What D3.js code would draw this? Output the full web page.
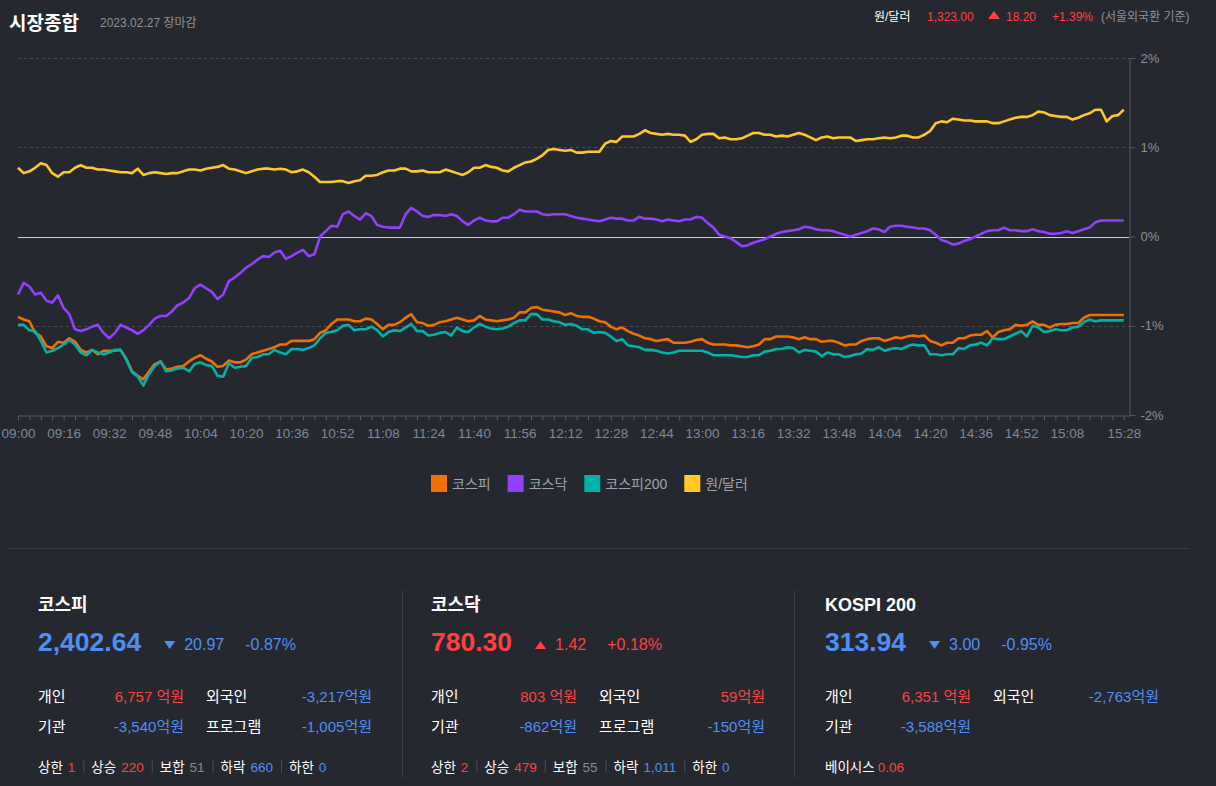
<!DOCTYPE html>
<html>
<head>
<meta charset="utf-8">
<script src="https://cdn.jsdelivr.net/npm/d3@7"></script>
<style>
html, body { margin: 0; padding: 0; background: #262830; overflow: hidden; }
svg text { font-family: "Liberation Sans", "Noto Sans CJK KR", sans-serif; }
</style>
</head>
<body>
<svg id="chart"></svg>
<script>
// intraday % change, sampled every 2 minutes from 09:00 to 15:28
var startTime = '09:00', stepMin = 2, tickStepMin = 4

var kospi = [
  -0.90, -0.93, -0.95, -1.08, -1.12, -1.23, -1.25, -1.18, -1.19, -1.14,
  -1.18, -1.27, -1.30, -1.27, -1.32, -1.28, -1.28, -1.28, -1.27, -1.37,
  -1.51, -1.56, -1.60, -1.51, -1.43, -1.40, -1.49, -1.48, -1.46, -1.45,
  -1.40, -1.36, -1.33, -1.37, -1.40, -1.46, -1.45, -1.39, -1.41, -1.41,
  -1.38, -1.32, -1.30, -1.28, -1.26, -1.24, -1.21, -1.21, -1.17, -1.17,
  -1.17, -1.17, -1.15, -1.08, -1.05, -0.98, -0.93, -0.93, -0.93, -0.95,
  -0.95, -0.92, -0.93, -0.98, -1.04, -0.99,
  -0.99, -0.96, -0.91, -0.87, -0.96, -0.97, -1.00, -0.99, -0.96, -0.95,
  -0.93, -0.91, -0.93, -0.95, -0.94, -0.89, -0.93, -0.94, -0.95, -0.94,
  -0.93, -0.91, -0.85, -0.85, -0.80, -0.79, -0.82, -0.83, -0.84, -0.85,
  -0.88, -0.86, -0.89, -0.90, -0.90, -0.92, -0.95, -0.96, -1.01, -1.04,
  -1.02, -1.06, -1.09, -1.11, -1.14, -1.15, -1.17, -1.16, -1.15, -1.19,
  -1.19, -1.19, -1.18, -1.16, -1.15, -1.19, -1.21, -1.21, -1.21, -1.22,
  -1.22, -1.23, -1.24, -1.23, -1.21, -1.15,
  -1.15, -1.12, -1.12, -1.12, -1.13, -1.15, -1.13, -1.15, -1.15, -1.18,
  -1.17, -1.17, -1.19, -1.22, -1.21, -1.21, -1.17, -1.15, -1.14, -1.14,
  -1.17, -1.15, -1.13, -1.14, -1.12, -1.11, -1.12, -1.11, -1.17, -1.19,
  -1.22, -1.19, -1.19, -1.14, -1.14, -1.11, -1.10, -1.10, -1.06, -1.13,
  -1.07, -1.05, -1.04, -0.99, -1.00, -0.99, -0.95, -0.99, -0.99, -1.02,
  -0.99, -0.98, -0.98, -0.97, -0.97, -0.91, -0.88, -0.88, -0.88, -0.88,
  -0.88, -0.88, -0.88
]
var kosdaq = [
  -0.65, -0.52, -0.56, -0.65, -0.63, -0.72, -0.74, -0.66, -0.80, -0.87,
  -1.04, -1.06, -1.04, -1.01, -0.99, -1.08, -1.14, -1.08, -0.99, -1.02,
  -1.05, -1.09, -1.05, -0.99, -0.92, -0.89, -0.89, -0.84, -0.77, -0.74,
  -0.69, -0.58, -0.54, -0.58, -0.62, -0.70, -0.65, -0.50, -0.46, -0.41,
  -0.35, -0.31, -0.26, -0.22, -0.23, -0.18, -0.16, -0.25, -0.22, -0.18,
  -0.15, -0.22, -0.20, 0.00, 0.06, 0.12, 0.11, 0.25, 0.28, 0.23,
  0.19, 0.26, 0.23, 0.13, 0.11, 0.10,
  0.10, 0.10, 0.25, 0.32, 0.28, 0.23, 0.22, 0.24, 0.24, 0.23,
  0.25, 0.23, 0.17, 0.13, 0.18, 0.21, 0.18, 0.17, 0.17, 0.21,
  0.21, 0.25, 0.30, 0.28, 0.28, 0.28, 0.25, 0.24, 0.25, 0.25,
  0.25, 0.23, 0.21, 0.20, 0.19, 0.18, 0.17, 0.19, 0.21, 0.20,
  0.20, 0.18, 0.18, 0.22, 0.20, 0.20, 0.19, 0.17, 0.19, 0.18,
  0.17, 0.19, 0.19, 0.22, 0.21, 0.15, 0.10, 0.02, 0.00, -0.02,
  -0.06, -0.11, -0.10, -0.07, -0.05, -0.03,
  0.00, 0.03, 0.05, 0.06, 0.07, 0.08, 0.11, 0.10, 0.08, 0.07,
  0.07, 0.06, 0.04, 0.02, 0.00, 0.02, 0.04, 0.06, 0.09, 0.08,
  0.05, 0.11, 0.12, 0.12, 0.11, 0.10, 0.09, 0.09, 0.07, 0.02,
  -0.04, -0.06, -0.09, -0.08, -0.05, -0.03, 0.00, 0.03, 0.06, 0.07,
  0.07, 0.10, 0.07, 0.07, 0.06, 0.06, 0.08, 0.06, 0.05, 0.03,
  0.03, 0.04, 0.06, 0.04, 0.06, 0.08, 0.10, 0.16, 0.18, 0.18,
  0.18, 0.18, 0.18
]
var kospi200 = [
  -0.99, -0.99, -1.05, -1.06, -1.17, -1.30, -1.28, -1.25, -1.21, -1.16,
  -1.21, -1.30, -1.33, -1.27, -1.30, -1.32, -1.30, -1.27, -1.27, -1.38,
  -1.52, -1.57, -1.67, -1.54, -1.45, -1.40, -1.51, -1.50, -1.48, -1.47,
  -1.51, -1.43, -1.41, -1.44, -1.45, -1.56, -1.57, -1.42, -1.47, -1.46,
  -1.45, -1.36, -1.35, -1.32, -1.32, -1.27, -1.30, -1.32, -1.26, -1.26,
  -1.27, -1.25, -1.22, -1.14, -1.08, -1.07, -1.05, -1.00, -0.99, -1.05,
  -1.04, -1.04, -1.01, -1.05, -1.12, -1.07,
  -1.05, -1.06, -1.02, -0.98, -1.06, -1.06, -1.11, -1.10, -1.08, -1.07,
  -1.11, -1.02, -1.06, -1.07, -1.02, -0.98, -1.01, -1.03, -1.04, -1.03,
  -1.01, -0.97, -0.94, -0.94, -0.87, -0.87, -0.93, -0.93, -0.95, -0.96,
  -0.99, -0.98, -1.00, -1.04, -1.04, -1.08, -1.07, -1.08, -1.12, -1.17,
  -1.15, -1.22, -1.23, -1.24, -1.27, -1.27, -1.28, -1.30, -1.31, -1.30,
  -1.28, -1.28, -1.28, -1.28, -1.28, -1.30, -1.33, -1.33, -1.33, -1.33,
  -1.34, -1.35, -1.35, -1.33, -1.33, -1.29,
  -1.28, -1.26, -1.26, -1.24, -1.25, -1.30, -1.27, -1.28, -1.29, -1.34,
  -1.30, -1.32, -1.32, -1.35, -1.34, -1.32, -1.31, -1.26, -1.27, -1.24,
  -1.28, -1.26, -1.25, -1.26, -1.23, -1.21, -1.22, -1.22, -1.32, -1.32,
  -1.33, -1.32, -1.32, -1.25, -1.26, -1.22, -1.21, -1.19, -1.22, -1.14,
  -1.15, -1.15, -1.12, -1.09, -1.06, -1.12, -1.00, -1.02, -1.07, -1.06,
  -1.04, -1.05, -1.05, -1.02, -1.01, -0.96, -0.93, -0.95, -0.94, -0.94,
  -0.94, -0.94, -0.94
]
var usdkrw = [
  0.77, 0.71, 0.73, 0.77, 0.82, 0.80, 0.71, 0.67, 0.72, 0.72,
  0.77, 0.80, 0.77, 0.77, 0.75, 0.75, 0.74, 0.73, 0.72, 0.72,
  0.71, 0.76, 0.69, 0.71, 0.72, 0.71, 0.70, 0.71, 0.71, 0.73,
  0.75, 0.75, 0.74, 0.76, 0.77, 0.78, 0.80, 0.76, 0.75, 0.73,
  0.71, 0.73, 0.75, 0.76, 0.76, 0.75, 0.76, 0.75, 0.72, 0.73,
  0.75, 0.72, 0.67, 0.61, 0.61, 0.61, 0.62, 0.62, 0.60, 0.62,
  0.63, 0.68, 0.68, 0.69, 0.72, 0.74,
  0.74, 0.76, 0.76, 0.73, 0.73, 0.74, 0.72, 0.72, 0.72, 0.75,
  0.73, 0.71, 0.69, 0.72, 0.77, 0.77, 0.80, 0.78, 0.77, 0.74,
  0.73, 0.77, 0.80, 0.83, 0.84, 0.87, 0.91, 0.97, 0.98, 0.97,
  0.96, 0.97, 0.94, 0.94, 0.95, 0.95, 0.95, 1.04, 1.07, 1.06,
  1.12, 1.12, 1.12, 1.15, 1.19, 1.16, 1.15, 1.14, 1.15, 1.14,
  1.14, 1.13, 1.06, 1.09, 1.14, 1.15, 1.15, 1.10, 1.11, 1.09,
  1.09, 1.10, 1.13, 1.16, 1.16, 1.14,
  1.14, 1.12, 1.13, 1.12, 1.14, 1.16, 1.14, 1.11, 1.08, 1.11,
  1.12, 1.10, 1.11, 1.11, 1.11, 1.07, 1.08, 1.09, 1.09, 1.10,
  1.11, 1.10, 1.11, 1.13, 1.13, 1.11, 1.11, 1.14, 1.18, 1.27,
  1.29, 1.28, 1.32, 1.31, 1.30, 1.30, 1.29, 1.29, 1.29, 1.27,
  1.27, 1.29, 1.31, 1.33, 1.34, 1.34, 1.36, 1.40, 1.39, 1.36,
  1.35, 1.34, 1.34, 1.31, 1.33, 1.36, 1.38, 1.42, 1.42, 1.29,
  1.35, 1.36, 1.42
]

var seriesNames = ['코스피', '코스닥', '코스피200', '원/달러']
var seriesColors = ['#f07000', '#9140fb', '#00b2a8', '#ffc82a']
var yTicks = [2, 1, 0, -1, -2]
var xTickLabels = ['09:00', '09:16', '09:32', '09:48', '10:04', '10:20', '10:36', '10:52',
  '11:08', '11:24', '11:40', '11:56', '12:12', '12:28', '12:44', '13:00', '13:16', '13:32',
  '13:48', '14:04', '14:20', '14:36', '14:52', '15:08', '15:28']

// summary panels
var mkNames = ['코스피', '코스닥', 'KOSPI 200']
var mkIndex = ['2,402.64', '780.30', '313.94']
var mkDir = [-1, 1, -1]
var mkChange = ['20.97', '1.42', '3.00']
var mkRate = ['-0.87%', '+0.18%', '-0.95%']
var invPersonal = ['6,757 억원', '803 억원', '6,351 억원']
var invForeign = ['-3,217억원', '59억원', '-2,763억원']
var invInst = ['-3,540억원', '-862억원', '-3,588억원']
var invProgram = ['-1,005억원', '-150억원', null]
var breadthLabels = ['상한', '상승', '보합', '하락', '하한']
var breadthValues = [['1', '220', '51', '660', '0'], ['2', '479', '55', '1,011', '0'], null]
var basisValue = '0.06'

var W = 1216, H = 786
var colors = {
  bg: '#262830',
  red: '#ff4040',
  blue: '#4f8ef6',
  gray: '#8c9099',
  axis: '#575a62',
  grid: '#4a4d56',
  zero: '#cfcfcf',
  tick: '#7d8898',
  sep: '#3a3d46'
}

var svg = d3.select('#chart').attr('width', W).attr('height', H)
svg.append('rect').attr('width', W).attr('height', H).attr('fill', colors.bg)

// header
svg.append('text').attr('x', 9).attr('y', 30).attr('fill', '#fff')
  .attr('font-size', 19).attr('font-weight', 'bold').text('시장종합')
svg.append('text').attr('x', 100).attr('y', 27).attr('fill', colors.gray)
  .attr('font-size', 12).text('2023.02.27 장마감')

var hdr = svg.append('g').attr('font-size', 12)
hdr.append('text').attr('x', 874).attr('y', 21).attr('fill', '#fff').text('원/달러')
hdr.append('text').attr('x', 927).attr('y', 21).attr('fill', colors.red).text('1,323.00')
hdr.append('path').attr('d', 'M988,19L994,11L1000,19Z').attr('fill', colors.red)
hdr.append('text').attr('x', 1006).attr('y', 21).attr('fill', colors.red).text('18.20')
hdr.append('text').attr('x', 1052).attr('y', 21).attr('fill', colors.red).text('+1.39%')
hdr.append('text').attr('x', 1101).attr('y', 21).attr('fill', colors.gray).text('(서울외국환 기준)')

// chart
var parse = d3.timeParse('%Y-%m-%d %H:%M')
var t0 = parse('2023-02-27 ' + startTime)
var tEnd = parse('2023-02-27 15:30')
var times = kospi.map(function (d, i) { return d3.timeMinute.offset(t0, i * stepMin) })

var x = d3.scaleTime().domain([t0, tEnd]).range([18, 1129.5])
var y = d3.scaleLinear().domain([-2, 2]).range([415, 58])
var fmt = d3.timeFormat('%H:%M')

var grid = svg.append('g')
grid.selectAll('line')
  .data(yTicks.filter(function (d) { return d !== -2 }))
  .enter().append('line')
  .attr('x1', 18).attr('x2', 1129)
  .attr('y1', function (d) { return Math.round(y(d)) + 0.5 })
  .attr('y2', function (d) { return Math.round(y(d)) + 0.5 })
  .attr('stroke', function (d) { return d === 0 ? colors.zero : colors.grid })
  .attr('stroke-dasharray', function (d) { return d === 0 ? null : '3,3' })

var xAxis = d3.axisBottom(x)
  .tickValues(d3.timeMinute.every(tickStepMin).range(t0, tEnd))
  .tickSize(5).tickSizeOuter(0).tickPadding(8)
  .tickFormat(function (d) { var s = fmt(d); return xTickLabels.indexOf(s) >= 0 ? s : '' })

var gx = svg.append('g').attr('transform', 'translate(0,' + (Math.round(y(-2)) + 0.5) + ')').call(xAxis)
gx.select('.domain').attr('stroke', colors.axis)
gx.selectAll('.tick line').attr('stroke', colors.axis)
gx.selectAll('.tick text').attr('fill', colors.tick).attr('font-size', 13.5)
  .attr('font-family', '"Liberation Sans", sans-serif')

var yAxis = d3.axisRight(y).tickValues(yTicks).tickSize(6).tickSizeOuter(0).tickPadding(5)
  .tickFormat(function (d) { return d + '%' })
var gy = svg.append('g').attr('transform', 'translate(1129.5,0)').call(yAxis)
gy.select('.domain').attr('stroke', colors.axis)
gy.selectAll('.tick line').attr('stroke', colors.axis)
gy.selectAll('.tick text').attr('fill', colors.gray).attr('font-size', 13)
  .attr('font-family', '"Liberation Sans", sans-serif')

var line = d3.line()
  .x(function (d, i) { return x(times[i]) })
  .y(function (d) { return y(d) })

var allSeries = [kospi, kosdaq, kospi200, usdkrw]
svg.append('g').selectAll('path')
  .data(allSeries)
  .enter().append('path')
  .attr('d', line)
  .attr('fill', 'none')
  .attr('stroke', function (d, i) { return seriesColors[i] })
  .attr('stroke-width', 2.6)
  .attr('stroke-linejoin', 'round')

// legend
var legend = svg.append('g').attr('font-size', 14)
var lx = 431
seriesNames.forEach(function (name, i) {
  legend.append('rect').attr('x', lx).attr('y', 475).attr('width', 16).attr('height', 17)
    .attr('fill', seriesColors[i])
  var t = legend.append('text').attr('x', lx + 21).attr('y', 489).attr('fill', '#9ea3ab').text(name)
  lx += 21 + t.node().getComputedTextLength() + 17
})

svg.append('line').attr('x1', 8).attr('x2', 1188).attr('y1', 548.5).attr('y2', 548.5)
  .attr('stroke', colors.sep)

// panels
var panelX = [38, 431, 825]
;[402.5, 794.5].forEach(function (px) {
  svg.append('line').attr('x1', px).attr('x2', px).attr('y1', 590).attr('y2', 778)
    .attr('stroke', colors.sep)
})

function valColor(s) { return s.charAt(0) === '-' ? colors.blue : colors.red }

mkNames.forEach(function (name, i) {
  var g = svg.append('g').attr('transform', 'translate(' + panelX[i] + ',0)')
  var c = mkDir[i] < 0 ? colors.blue : colors.red
  g.append('text').attr('x', 0).attr('y', 611).attr('fill', '#fff')
    .attr('font-size', 18).attr('font-weight', 'bold').text(name)
  var big = g.append('text').attr('x', 0).attr('y', 651).attr('fill', c)
    .attr('font-size', 26.5).attr('font-weight', 'bold').text(mkIndex[i])
  var tx = big.node().getComputedTextLength() + 23
  var tri = mkDir[i] < 0
    ? 'M' + tx + ',641L' + (tx + 11) + ',641L' + (tx + 5.5) + ',649Z'
    : 'M' + tx + ',649L' + (tx + 11) + ',649L' + (tx + 5.5) + ',641Z'
  g.append('path').attr('d', tri).attr('fill', c)
  var ch = g.append('text').attr('x', tx + 20).attr('y', 650).attr('fill', c)
    .attr('font-size', 16).text(mkChange[i])
  g.append('text').attr('x', tx + 20 + ch.node().getComputedTextLength() + 21).attr('y', 650)
    .attr('fill', c).attr('font-size', 16).text(mkRate[i])

  var rows = g.append('g').attr('font-size', 15)
  rows.append('text').attr('x', 0).attr('y', 702).attr('fill', '#fff').text('개인')
  rows.append('text').attr('x', 146).attr('y', 702).attr('text-anchor', 'end')
    .attr('fill', valColor(invPersonal[i])).text(invPersonal[i])
  rows.append('text').attr('x', 168).attr('y', 702).attr('fill', '#fff').text('외국인')
  rows.append('text').attr('x', 334).attr('y', 702).attr('text-anchor', 'end')
    .attr('fill', valColor(invForeign[i])).text(invForeign[i])
  rows.append('text').attr('x', 0).attr('y', 732).attr('fill', '#fff').text('기관')
  rows.append('text').attr('x', 146).attr('y', 732).attr('text-anchor', 'end')
    .attr('fill', valColor(invInst[i])).text(invInst[i])
  if (invProgram[i]) {
    rows.append('text').attr('x', 168).attr('y', 732).attr('fill', '#fff').text('프로그램')
    rows.append('text').attr('x', 334).attr('y', 732).attr('text-anchor', 'end')
      .attr('fill', valColor(invProgram[i])).text(invProgram[i])
  }

  var foot = g.append('g').attr('font-size', 13.5)
  if (breadthValues[i]) {
    var bx = 0
    var bColors = [colors.red, colors.red, '#8a8a8a', colors.blue, colors.blue]
    breadthLabels.forEach(function (lab, j) {
      var a = foot.append('text').attr('x', bx).attr('y', 772).attr('fill', '#fff').text(lab)
      bx += a.node().getComputedTextLength() + 5
      var v = foot.append('text').attr('x', bx).attr('y', 772).attr('fill', bColors[j]).text(breadthValues[i][j])
      bx += v.node().getComputedTextLength() + 8
      if (j < breadthLabels.length - 1) {
        foot.append('line').attr('x1', bx + 0.5).attr('x2', bx + 0.5).attr('y1', 760).attr('y2', 773)
          .attr('stroke', '#4a4d56')
        bx += 8
      }
    })
  } else {
    var b = foot.append('text').attr('x', 0).attr('y', 772).attr('fill', '#fff').text('베이시스')
    foot.append('text').attr('x', b.node().getComputedTextLength() + 3).attr('y', 772)
      .attr('fill', colors.red).text(basisValue)
  }
})
</script>
</body>
</html>
